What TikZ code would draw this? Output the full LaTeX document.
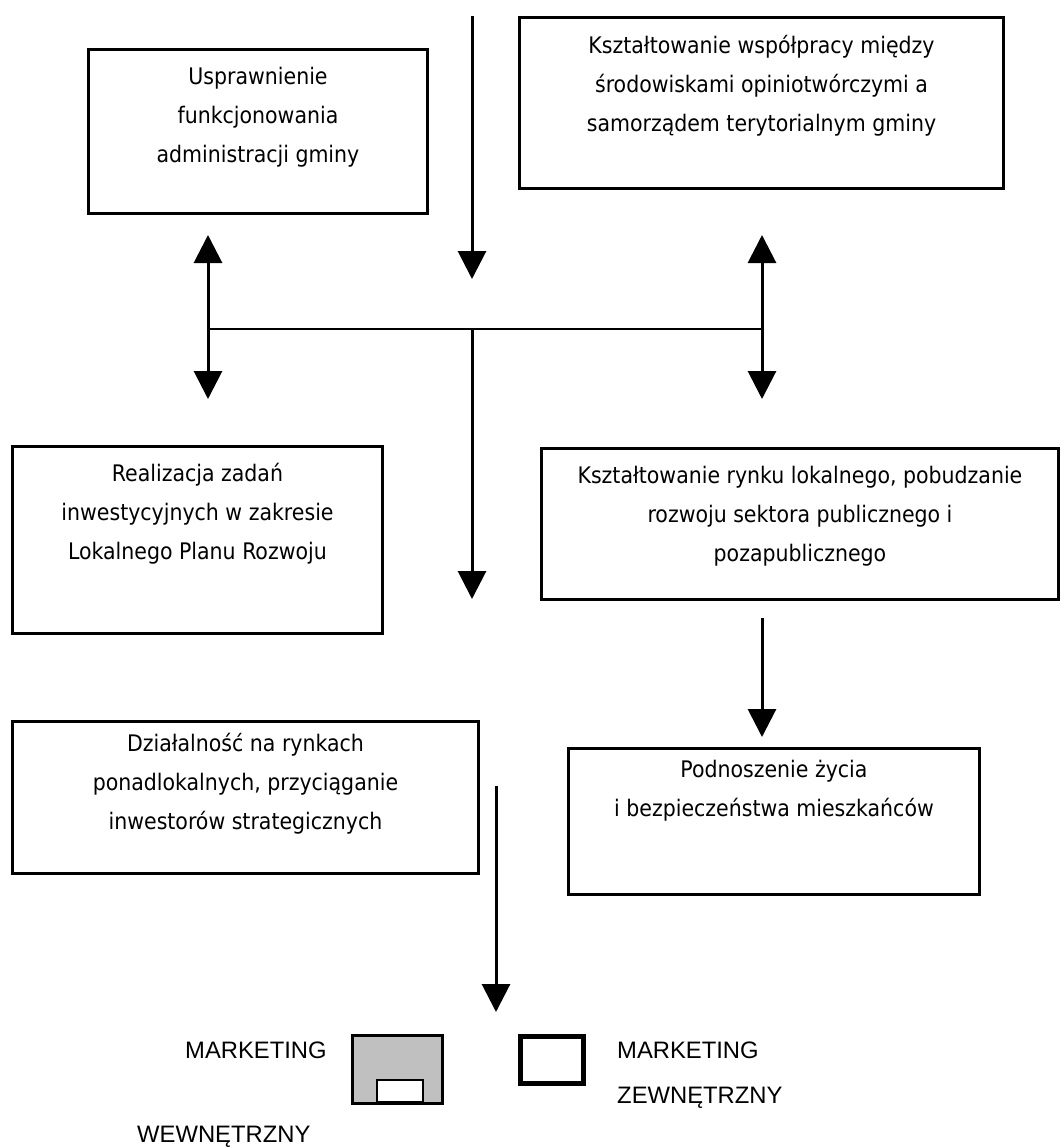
\documentclass[tikz,border=0pt]{standalone}
\usepackage{fontspec}
\usepackage{tikz}
\usetikzlibrary{arrows.meta}
\usetikzlibrary{positioning}
\newfontfamily\boxfont{DejaVu Sans Condensed}
\newfontfamily\legfont{Liberation Sans}

\begin{document}
\begin{tikzpicture}[x=1pt,y=-1pt,
	box/.style={draw,line width=3pt,inner sep=0pt,anchor=north west},
	txt/.style={inner sep=0pt,align=center,font=\boxfont\fontsize{22.8}{39}\selectfont},
	leg/.style={inner sep=0pt,anchor=base west,font=\legfont\fontsize{23.8}{28}\selectfont},
	arr/.style={-{Triangle[width=28pt,length=28pt]},line width=3pt},
	darr/.style={{Triangle[width=28pt,length=28pt]}-{Triangle[width=28pt,length=28pt]},line width=3pt}]
			\useasboundingbox (0,0) rectangle (1064,1148);
			%boxes
			\node[box,minimum width=339pt,minimum height=164pt] (adm) at (87,48) {};
			\node[box,minimum width=484pt,minimum height=171pt] (wsp) at (518,16) {};
			\node[box,minimum width=370pt,minimum height=187pt] (inw) at (11,445) {};
			\node[box,minimum width=517pt,minimum height=151pt] (rynek) at (540,447) {};
			\node[box,minimum width=411pt,minimum height=146pt] (zycie) at (567,747) {};
			\node[box,minimum width=466pt,minimum height=152pt] (ponad) at (11,720) {};
			%texts in the boxes
			\node[txt,below=8.7pt of adm.north] (adm_t) {\strut Usprawnienie\\funkcjonowania\\administracji gminy};
			\node[txt,below=9.7pt of wsp.north] (wsp_t) {\strut Kształtowanie współpracy między\\środowiskami opiniotwórczymi a\\samorządem terytorialnym gminy};
			\node[txt,below=8.7pt of inw.north] (inw_t) {\strut Realizacja zadań\\inwestycyjnych w zakresie\\Lokalnego Planu Rozwoju};
			\node[txt,below=8.7pt of rynek.north] (rynek_t) {\strut Kształtowanie rynku lokalnego, pobudzanie\\rozwoju sektora publicznego i\\pozapublicznego};
			\node[txt,below=2.7pt of zycie.north] (zycie_t) {\strut Podnoszenie życia\\i bezpieczeństwa mieszkańców};
			\node[txt,below=3.7pt of ponad.north] (ponad_t) {\strut Działalność na rynkach\\ponadlokalnych, przyciąganie\\inwestorów strategicznych};
			%arrow points
			\coordinate (top) at (472,16);
			\coordinate (topend) at (472,279);
			\coordinate (jl) at (208,329);
			\coordinate (jc) at (472,329);
			\coordinate (jr) at (762,329);
			\coordinate (lup) at (208,235);
			\coordinate (ldn) at (208,399);
			\coordinate (rup) at (762,235);
			\coordinate (rdn) at (762,399);
			\coordinate (cdn) at (472,599);
			\coordinate (r2s) at (762,618);
			\coordinate (r2e) at (762,737);
			\coordinate (bs) at (496,786);
			\coordinate (be) at (496,1012);
			%arrows
			\draw[arr] (top)--(topend);
			\draw[line width=2.5pt] (jl)--(jr);
			\draw[darr] (lup)--(ldn);
			\draw[darr] (rup)--(rdn);
			\draw[arr] (jc)--(cdn);
			\draw[arr] (r2s)--(r2e);
			\draw[arr] (bs)--(be);
			%legend
			\node[draw,line width=3pt,fill={rgb,255:red,192;green,192;blue,192},minimum width=90pt,minimum height=68.5pt,inner sep=0pt] (wew) at (397,1069.25) {};
			\node[draw,line width=2.5pt,fill=white,minimum width=46pt,minimum height=22pt,inner sep=0pt] (wew_in) at (400,1091) {};
			\node[draw,line width=5pt,minimum width=63.5pt,minimum height=47.5pt,inner sep=0pt] (zew) at (551.75,1059.75) {};
			\node[leg] (mk1) at (185,1058) {MARKETING};
			\node[leg] (wew_t) at (137,1142) {WEWNĘTRZNY};
			\node[leg] (mk2) at (617,1058) {MARKETING};
			\node[leg] (zew_t) at (617,1103) {ZEWNĘTRZNY};
		\end{tikzpicture}
\end{document}
